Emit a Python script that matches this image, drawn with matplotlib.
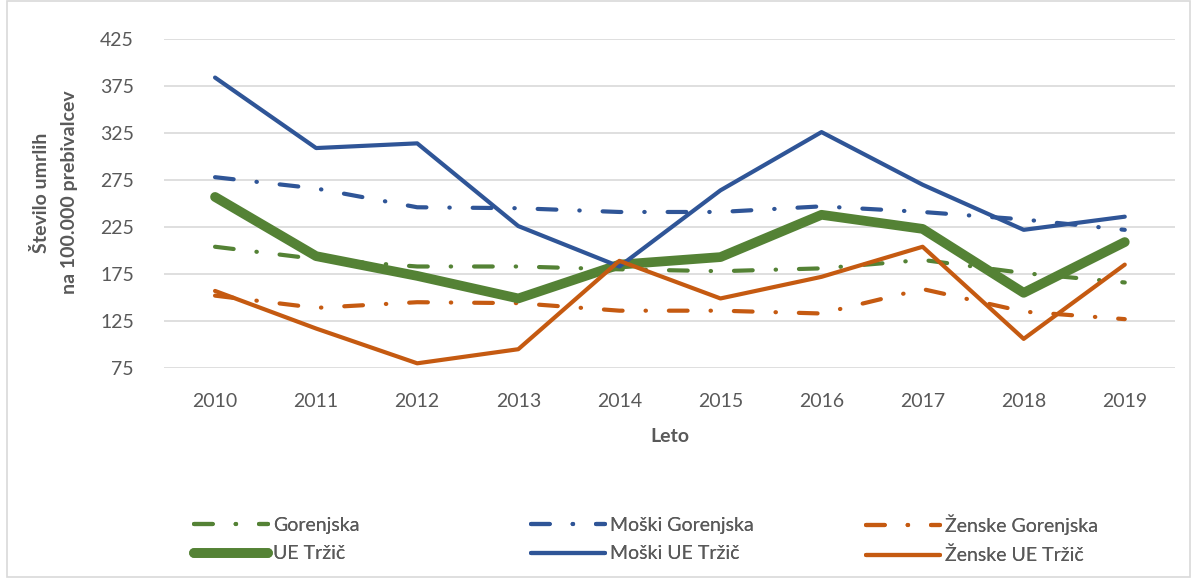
import matplotlib
matplotlib.use('Agg')
import matplotlib.pyplot as plt
from matplotlib.patches import Rectangle

plt.rcParams['font.family'] = ['Lato', 'DejaVu Sans']

# Data
years = [2010, 2011, 2012, 2013, 2014, 2015, 2016, 2017, 2018, 2019]
gorenjska = [204, 191, 183, 183, 180, 178, 181, 190, 176, 166]
moski_gorenjska = [278, 266, 246, 245, 241, 241, 247, 241, 233, 222]
zenske_gorenjska = [152, 139, 145, 144, 136, 136, 133, 159, 135, 127]
ue_trzic = [257, 194, 173, 149, 185, 193, 238, 223, 155, 209]
moski_ue_trzic = [384, 309, 314, 226, 183, 264, 326, 270, 222, 236]
zenske_ue_trzic = [157, 117, 80, 95, 189, 149, 172, 204, 106, 185]
y_ticks = [75, 125, 175, 225, 275, 325, 375, 425]

green = '#548235'
blue = '#2F5597'
orange = '#C55A11'
grey_text = '#595959'
dashdot = (0, (4.5, 5.5, 0.1, 5.5))

fig = plt.figure(figsize=(11.92, 5.78), dpi=100)
ax = fig.add_axes([0.138, 0.3633, 0.848, 0.5692])

series = [
    ('Gorenjska', gorenjska, green, 3.0, dashdot),
    ('Moški Gorenjska', moski_gorenjska, blue, 3.0, dashdot),
    ('Ženske Gorenjska', zenske_gorenjska, orange, 3.0, dashdot),
    ('UE Tržič', ue_trzic, green, 7.0, '-'),
    ('Moški UE Tržič', moski_ue_trzic, blue, 3.0, '-'),
    ('Ženske UE Tržič', zenske_ue_trzic, orange, 3.0, '-'),
]

handles = []
for label, vals, col, lw, ls in series:
    line, = ax.plot(years, vals, color=col, lw=lw, linestyle=ls,
                    solid_capstyle='round', dash_capstyle='round',
                    solid_joinstyle='round', label=label)
    handles.append(line)

ax.set_xlim(2009.5, 2019.5)
ax.set_ylim(75, 425)
ax.set_yticks(y_ticks)
ax.set_xticks(years)
ax.grid(axis='y', color='#D9D9D9', lw=1.2)
ax.set_axisbelow(True)
for s in ax.spines.values():
    s.set_visible(False)
ax.tick_params(axis='both', length=0, labelsize=14, colors=grey_text)
ax.tick_params(axis='y', pad=22)
ax.tick_params(axis='x', pad=18)

fig.text(0.046, 0.667, 'Število umrlih\nna 100.000 prebivalcev', rotation=90,
         ha='center', va='center', multialignment='center',
         fontsize=14, fontweight='bold', color=grey_text, linespacing=1.75)
fig.text(0.562, 0.244, 'Leto', ha='center', va='center',
         fontsize=14, fontweight='bold', color=grey_text)

# legend: three columns placed separately
col_x = [176 / 1192, 513 / 1192, 848 / 1192]
for i in range(3):
    hs = [handles[i], handles[i + 3]]
    leg = fig.legend(hs, [h.get_label() for h in hs], loc='center left',
                     bbox_to_anchor=(col_x[i], 1 - 539.5 / 578), frameon=False,
                     fontsize=14, handlelength=3.85, handletextpad=0.25,
                     labelspacing=0.6, labelcolor=grey_text)
    fig.add_artist(leg)

fig.add_artist(Rectangle((7 / 1192, 0.002), 1183 / 1192, 0.996,
                         transform=fig.transFigure, fill=False,
                         edgecolor='#D9D9D9', lw=1.2))

fig.savefig('out.png', dpi=100)
